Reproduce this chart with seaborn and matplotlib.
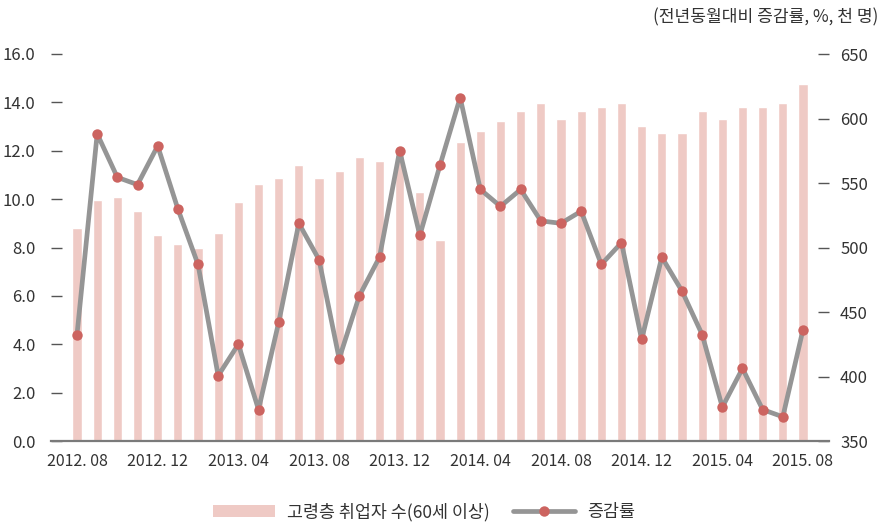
import numpy as np
import pandas as pd
import matplotlib
matplotlib.use("Agg")
import matplotlib.pyplot as plt
import seaborn as sns
from matplotlib.patches import Patch
from matplotlib.lines import Line2D

sns.set_theme(style="white")
plt.rcParams['font.family'] = ['Noto Sans CJK KR', 'DejaVu Sans']

months = ["2012. 08", "2012. 09", "2012. 10", "2012. 11", "2012. 12",
          "2013. 01", "2013. 02", "2013. 03", "2013. 04", "2013. 05", "2013. 06",
          "2013. 07", "2013. 08", "2013. 09", "2013. 10", "2013. 11", "2013. 12",
          "2014. 01", "2014. 02", "2014. 03", "2014. 04", "2014. 05", "2014. 06",
          "2014. 07", "2014. 08", "2014. 09", "2014. 10", "2014. 11", "2014. 12",
          "2015. 01", "2015. 02", "2015. 03", "2015. 04", "2015. 05", "2015. 06",
          "2015. 07", "2015. 08"]

employed = [515, 537, 539, 528, 510, 503, 500, 511, 535, 549, 554, 564,
            554, 559, 570, 567, 572, 543, 506, 582, 590, 598, 606, 612,
            600, 606, 609, 612, 594, 589, 589, 606, 600, 609, 609, 612, 627]

growth = [4.4, 12.7, 10.9, 10.6, 12.2, 9.6, 7.3, 2.7, 4.0, 1.3, 4.9, 9.0,
          7.5, 3.4, 6.0, 7.6, 12.0, 8.5, 11.4, 14.2, 10.4, 9.7, 10.4, 9.1,
          9.0, 9.5, 7.3, 8.2, 4.2, 7.6, 6.2, 4.4, 1.4, 3.0, 1.3, 1.0, 4.6]

left_ticks = [0, 2, 4, 6, 8, 10, 12, 14, 16]
right_ticks = [350, 400, 450, 500, 550, 600, 650]

bar_label = "고령층 취업자 수(60세 이상)"
line_label = "증감률"
unit_text = "(전년동월대비 증감률, %, 천 명)"

bar_color = "#efcac5"
line_color = "#959595"
marker_color = "#cc6460"
text_color = "#333333"

df = pd.DataFrame({"idx": np.arange(len(months)), "month": months,
                   "employed": employed, "growth": growth})

fig = plt.figure(figsize=(8.85, 5.24), dpi=100)
ax = fig.add_axes([51/885, 1-441/524, (829-51)/885, (441-54)/524])
ax2 = ax.twinx()

sns.barplot(data=df, x="idx", y="employed", ax=ax2, color=bar_color,
            width=0.45, saturation=1, native_scale=True)
sns.lineplot(data=df, x="idx", y="growth", ax=ax, color=line_color,
             linewidth=3.4, marker="o", markersize=7.5, markerfacecolor=marker_color,
             markeredgecolor=marker_color, markeredgewidth=0)

ax.set_zorder(ax2.get_zorder() + 1)
ax.patch.set_visible(False)

ax.set_ylim(0, 16)
ax2.set_ylim(350, 650)
ax.set_xlim(-1.29, 37.29)
ax2.set_xlim(-1.29, 37.29)

ax.set_yticks(left_ticks)
ax.set_yticklabels([f"{v:.1f}" for v in left_ticks])
ax2.set_yticks(right_ticks)
ax2.set_yticklabels([str(v) for v in right_ticks])

xt = list(range(0, len(months), 4))
ax.set_xticks(xt)
ax.set_xticklabels([months[i] for i in xt])
ax2.set_xticks(xt)

for a in (ax, ax2):
    a.set_xlabel("")
    a.set_ylabel("")
    for s in ("top", "left", "right", "bottom"):
        a.spines[s].set_visible(False)
    a.grid(False)

ax.spines["bottom"].set_visible(True)
ax.spines["bottom"].set_color("#7a7a7a")
ax.spines["bottom"].set_linewidth(1.6)

ax.tick_params(axis="y", direction="in", length=8, width=1, color="#555555",
               pad=11, labelsize=12, labelcolor=text_color, left=True)
ax.tick_params(axis="x", length=0, pad=9, labelsize=11.5, labelcolor=text_color)
ax2.tick_params(axis="y", direction="in", length=8, width=1, color="#555555",
                pad=8, labelsize=12, labelcolor=text_color, right=True)
ax2.tick_params(axis="x", length=0, labelbottom=False)

fig.text(878/885, 1-17/524, unit_text, ha="right", va="center", fontsize=12.3,
         color=text_color)

handles = [Patch(facecolor=bar_color, edgecolor="none"),
           Line2D([0], [0], color=line_color, linewidth=3.4, marker="o", markersize=7.5,
                  markerfacecolor=marker_color, markeredgewidth=0)]
leg = fig.legend(handles, [bar_label, line_label], loc="center",
                 bbox_to_anchor=(0.479, 1-512/524), ncol=2, frameon=False,
                 handlelength=3.6, handletextpad=0.7, columnspacing=1.3,
                 prop={"size": 12.5})
for t in leg.get_texts():
    t.set_color(text_color)

fig.savefig("out.png", dpi=100)
